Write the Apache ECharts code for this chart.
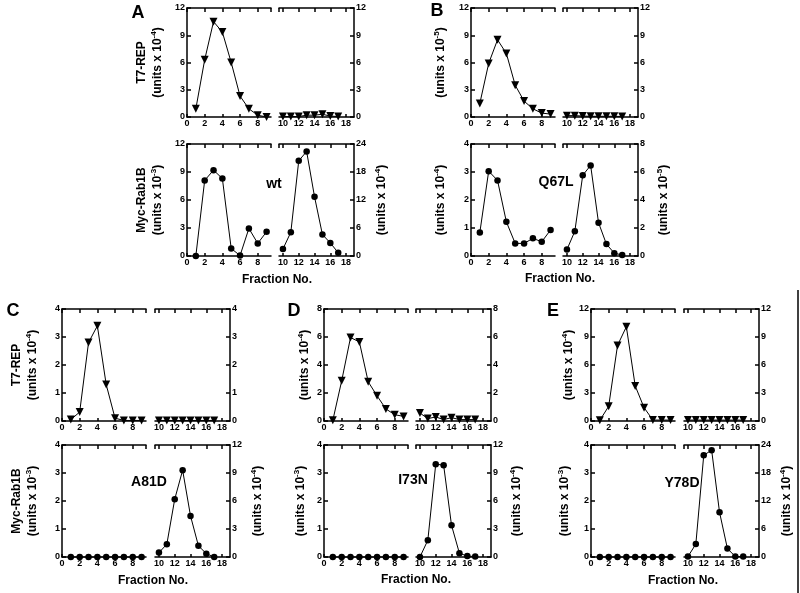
<!DOCTYPE html>
<html>
<head>
<meta charset="utf-8">
<script src="https://cdn.jsdelivr.net/npm/echarts@6/dist/echarts.min.js"></script>
<style>
  html, body { margin: 0; padding: 0; background: #fff; }
  #chart { width: 800px; height: 593px; }
</style>
</head>
<body>
<div id="chart"></div>
<script>
// fraction numbers (x) and axis tick labels
var fracLeft = [1, 2, 3, 4, 5, 6, 7, 8, 9];
var fracRight = [10, 11, 12, 13, 14, 15, 16, 17];
var xTicksLeft = [0, 2, 4, 6, 8];
var xTicksRight = [10, 12, 14, 16, 18];

var yTicks4 = [0, 1, 2, 3, 4];
var yTicks8 = [0, 2, 4, 6, 8];
var yTicks12 = [0, 3, 6, 9, 12];
var yTicks24 = [0, 6, 12, 18, 24];

// A - wt
var aRepLeft = [0.9, 6.3, 10.5, 9.35, 6.0, 2.3, 0.9, 0.2, 0.0];
var aRepRight = [0.05, 0.05, 0.05, 0.2, 0.2, 0.3, 0.1, 0.05];
var aRabLeft = [0.0, 8.1, 9.2, 8.3, 0.8, 0.05, 2.95, 1.35, 2.6];
var aRabRight = [1.5, 5.1, 20.4, 22.4, 12.7, 4.6, 2.8, 0.7];

// B - Q67L
var bRepLeft = [1.5, 5.9, 8.5, 7.0, 3.5, 1.75, 0.9, 0.43, 0.32];
var bRepRight = [0.15, 0.15, 0.1, 0.08, 0.08, 0.08, 0.08, 0.05];
var bRabLeft = [0.84, 3.03, 2.7, 1.22, 0.45, 0.45, 0.63, 0.51, 0.93];
var bRabRight = [0.46, 1.77, 5.77, 6.47, 2.38, 0.85, 0.2, 0.07];

// C - A81D
var cRepLeft = [0.05, 0.32, 2.8, 3.4, 1.3, 0.1, 0.02, 0.02, 0.02];
var cRepRight = [0.02, 0.02, 0.02, 0.02, 0.02, 0.02, 0.02, 0.02];
var cRabLeft = [0, 0, 0, 0, 0, 0, 0, 0, 0];
var cRabRight = [0.47, 1.37, 6.2, 9.3, 4.4, 1.2, 0.36, 0.0];

// D - I73N
var dRepLeft = [0.05, 2.87, 5.96, 5.65, 2.8, 1.8, 0.86, 0.45, 0.33];
var dRepRight = [0.57, 0.17, 0.29, 0.1, 0.24, 0.1, 0.1, 0.1];
var dRabLeft = [0, 0, 0, 0, 0, 0, 0, 0, 0];
var dRabRight = [0.0, 1.8, 9.95, 9.84, 3.4, 0.4, 0.1, 0.05];

// E - Y78D
var eRepLeft = [0.07, 1.58, 8.1, 10.1, 3.76, 1.43, 0.1, 0.1, 0.1];
var eRepRight = [0.1, 0.1, 0.1, 0.1, 0.1, 0.1, 0.1, 0.1];
var eRabLeft = [0, 0, 0, 0, 0, 0, 0, 0, 0];
var eRabRight = [0.1, 2.76, 21.8, 22.9, 9.6, 1.8, 0.1, 0.1];

var FONT = 'Liberation Sans';
var grids = [], xAxes = [], yAxes = [], series = [];

function unitsName(exp, label) {
  var s = '{a|(units x 10}{s|' + exp + '}{a|)}';
  return label ? '{a|' + label + '}\n' + s : s;
}

var nameRich = {
  a: { fontSize: 12, fontWeight: 'bold', fontFamily: FONT, color: '#000', lineHeight: 16 },
  s: { fontSize: 8, fontWeight: 'bold', fontFamily: FONT, color: '#000', lineHeight: 9, verticalAlign: 'top' }
};

var axisLine = { onZero: false, lineStyle: { color: '#000', width: 1.5 } };
var tickStyle = { color: '#000', width: 1.5 };
var labelStyle = { color: '#000', fontSize: 9, fontWeight: 'bold', fontFamily: FONT };

// one half of a broken-axis plot
function addSub(box, isLeft, yTicks, xs, ys, symbol, yName, nameGap) {
  var g = grids.length;
  var xMin = isLeft ? 0 : 9.5, xMax = isLeft ? 9.5 : 19;
  var xTicks = isLeft ? xTicksLeft : xTicksRight;
  var breakTick = isLeft ? xMax : xMin;
  grids.push({ left: box[0], top: box[1], width: box[2], height: box[3] });
  xAxes.push({
    gridIndex: g, type: 'value', position: 'bottom', min: xMin, max: xMax,
    axisLine: axisLine,
    axisTick: { inside: true, length: 3, customValues: xTicks, lineStyle: tickStyle },
    axisLabel: Object.assign({ customValues: xTicks, margin: 2 }, labelStyle),
    splitLine: { show: false }
  });
  xAxes.push({
    gridIndex: g, type: 'value', position: 'top', min: xMin, max: xMax,
    axisLine: axisLine,
    axisTick: { inside: true, length: 4, customValues: xTicks.concat([breakTick]), lineStyle: tickStyle },
    axisLabel: { show: false },
    splitLine: { show: false }
  });
  var y = {
    gridIndex: g, type: 'value', position: isLeft ? 'left' : 'right',
    min: yTicks[0], max: yTicks[yTicks.length - 1], interval: yTicks[1] - yTicks[0],
    axisLine: axisLine,
    axisTick: { inside: true, length: 4, lineStyle: tickStyle },
    axisLabel: Object.assign({ margin: 2 }, labelStyle),
    splitLine: { show: false }
  };
  if (yName) {
    y.name = yName;
    y.nameLocation = 'middle';
    y.nameRotate = 90;
    y.nameGap = nameGap;
    y.nameTextStyle = { rich: nameRich };
  }
  yAxes.push(y);
  var tri = symbol === 'tri';
  series.push({
    type: 'line', xAxisIndex: 2 * g, yAxisIndex: g,
    data: xs.map(function (x, i) { return [x, ys[i]]; }),
    symbol: tri ? 'triangle' : 'circle',
    symbolRotate: tri ? 180 : 0,
    symbolSize: tri ? 8 : 6.5,
    showSymbol: true,
    lineStyle: { color: '#000', width: 1 },
    itemStyle: { color: '#000' },
    clip: false
  });
}

// one row of a panel: left and right halves
function addPanel(leftX, rightX, top, h, yL, yR, dataL, dataR, symbol, nameL, gapL, nameR, gapR) {
  addSub([leftX, top, 84, h], true, yL, fracLeft, dataL, symbol, nameL, gapL);
  addSub([rightX, top, 75, h], false, yR, fracRight, dataR, symbol, nameR, gapR);
}

var row1Top = 8, row1Bot = 144, row2Top = 309, row2Bot = 445;

// A
addPanel(187, 279, row1Top, 109, yTicks12, yTicks12, aRepLeft, aRepRight, 'tri', unitsName('-4', 'T7-REP'), 21);
addPanel(187, 279, row1Bot, 112, yTicks12, yTicks24, aRabLeft, aRabRight, 'dot', unitsName('-3', 'Myc-Rab1B'), 21, unitsName('-4'), 20);
// B
addPanel(471, 563, row1Top, 109, yTicks12, yTicks12, bRepLeft, bRepRight, 'tri', unitsName('-5'), 22);
addPanel(471, 563, row1Bot, 112, yTicks4, yTicks8, bRabLeft, bRabRight, 'dot', unitsName('-4'), 22, unitsName('-5'), 18);
// C
addPanel(62, 155, row2Top, 112, yTicks4, yTicks4, cRepLeft, cRepRight, 'tri', unitsName('-4', 'T7-REP'), 21);
addPanel(62, 155, row2Bot, 112, yTicks4, yTicks12, cRabLeft, cRabRight, 'dot', unitsName('-3', 'Myc-Rab1B'), 21, unitsName('-4'), 20);
// D
addPanel(324, 416, row2Top, 112, yTicks8, yTicks8, dRepLeft, dRepRight, 'tri', unitsName('-4'), 11);
addPanel(324, 416, row2Bot, 112, yTicks4, yTicks12, dRabLeft, dRabRight, 'dot', unitsName('-3'), 15, unitsName('-4'), 18);
// E
addPanel(591, 684, row2Top, 112, yTicks12, yTicks12, eRepLeft, eRepRight, 'tri', unitsName('-4'), 13);
addPanel(591, 684, row2Bot, 112, yTicks4, yTicks24, eRabLeft, eRabRight, 'dot', unitsName('-3'), 18, unitsName('-4'), 20);

function txt(text, x, y, size) {
  return {
    type: 'text', x: x, y: y, silent: true,
    style: {
      text: text, fill: '#000', textAlign: 'center', textVerticalAlign: 'middle',
      font: 'bold ' + size + 'px "' + FONT + '"'
    }
  };
}

var graphics = [
  txt('A', 138, 13, 18), txt('B', 437, 11, 18), txt('C', 13, 311, 18),
  txt('D', 294, 311, 18), txt('E', 553, 311, 18),
  txt('wt', 274, 184, 14), txt('Q67L', 556, 182, 14), txt('A81D', 149, 482, 14),
  txt('I73N', 413, 480, 14), txt('Y78D', 682, 483, 14),
  txt('Fraction No.', 277, 280, 12), txt('Fraction No.', 560, 279, 12),
  txt('Fraction No.', 153, 581, 12), txt('Fraction No.', 416, 580, 12),
  txt('Fraction No.', 683, 581, 12),
  { type: 'line', silent: true, shape: { x1: 798, y1: 290, x2: 798, y2: 593 }, style: { stroke: '#000', lineWidth: 1.5 } }
];

var chart = echarts.init(document.getElementById('chart'));
chart.setOption({
  animation: false,
  backgroundColor: '#fff',
  textStyle: { fontFamily: FONT },
  grid: grids,
  xAxis: xAxes,
  yAxis: yAxes,
  series: series,
  graphic: graphics
});
</script>
</body>
</html>
